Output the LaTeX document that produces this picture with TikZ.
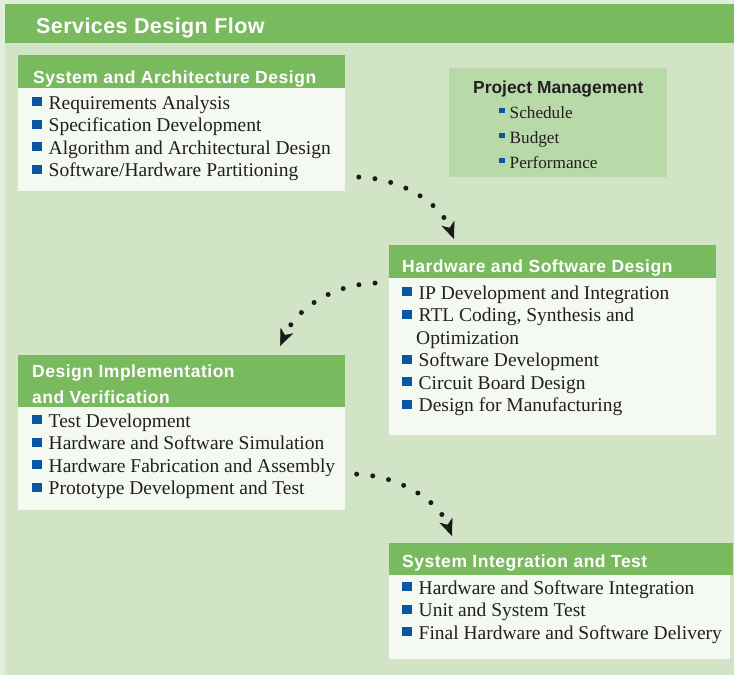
\documentclass[tikz,border=0pt]{standalone}
\usepackage{fontspec}
\setmainfont{Liberation Serif}
\newfontfamily\hsans{Liberation Sans}[LetterSpace=3]
\newfontfamily\tsans{Liberation Sans}[LetterSpace=2]
\newfontfamily\psans{Liberation Sans}
\usetikzlibrary{arrows.meta}
\definecolor{outerc}{HTML}{E2EEDC}
\definecolor{bgc}{HTML}{D1E5C6}
\definecolor{hgreen}{HTML}{7ABA5F}
\definecolor{bodyc}{HTML}{F4F9F1}
\definecolor{pmc}{HTML}{B8D9A8}
\definecolor{bulblue}{HTML}{0B56A4}
\definecolor{txtc}{HTML}{231F20}
\definecolor{arrowc}{HTML}{1A1A1A}
\newcommand{\bul}{{\color{bulblue}\rule[3pt]{9.5pt}{9pt}}\hspace{7pt}}
\newcommand{\pbul}{{\color{bulblue}\rule[5pt]{5.5pt}{5.5pt}}\hspace{5pt}}
\tikzset{
  hdr/.style={fill=hgreen, draw=none, inner sep=0pt, anchor=north west},
  bodybox/.style={fill=bodyc, draw=none, inner sep=0pt, anchor=north west},
  pmbox/.style={fill=pmc, draw=none, inner sep=0pt, anchor=north west},
  htxt/.style={font=\hsans\bfseries\fontsize{17.5}{20}\selectfont, text=white, anchor=base west, inner sep=0pt},
  item/.style={font=\fontsize{19.5}{22}\selectfont, text=txtc, anchor=base west, inner sep=0pt},
  pitem/.style={font=\fontsize{17.2}{20}\selectfont, text=txtc, anchor=base west, inner sep=0pt},
  flow/.style={draw=arrowc, line width=5pt, line cap=round, dash pattern=on 0pt off 16.2pt, dash phase=4.2pt,
    {Stealth[length=17pt,width=14pt,inset=5pt,line width=0.4pt]}-},
}
\begin{document}
\begin{tikzpicture}[x=1pt,y=-1pt]
\useasboundingbox (0,0) rectangle (734,675);
\fill[outerc] (0,0) rectangle (734,675);
\fill[bgc] (5,4) rectangle (734,675);
% title bar
\node[hdr, minimum width=729pt, minimum height=39pt] (tbar) at (5,4) {};
\node[anchor=base west, inner sep=0pt, font=\tsans\bfseries\fontsize{21.5}{24}\selectfont, text=white] (title) at (36,33) {Services Design Flow};

% Box 1
\node[bodybox, minimum width=327pt, minimum height=136pt] (b1) at (18,55) {};
\node[hdr, minimum width=327pt, minimum height=33pt] (h1) at (18,55) {};
\node[htxt] (h1t) at (33,83) {System and Architecture Design};
\foreach \t [count=\i] in {Requirements Analysis, Specification Development, Algorithm and Architectural Design, Software/Hardware Partitioning}
  \node[item] (a\i) at (32,{109+(\i-1)*22.5}) {\bul\t};

% Project management
\node[pmbox, minimum width=218pt, minimum height=109pt] (pm) at (449,68) {};
\node[anchor=base west, inner sep=0pt, font=\psans\bfseries\fontsize{17.4}{20}\selectfont, text=txtc] (pmt) at (473,93) {Project Management};
\foreach \t [count=\i] in {Schedule, Budget, Performance}
  \node[pitem] (p\i) at (499,{118+(\i-1)*25}) {\pbul\t};

% Box 3
\node[bodybox, minimum width=327pt, minimum height=190pt] (b3) at (389,245) {};
\node[hdr, minimum width=327pt, minimum height=33pt] (h3) at (389,245) {};
\node[htxt] (h3t) at (402,272) {Hardware and Software Design};
\node[item] (c1) at (402,299) {\bul IP Development and Integration};
\node[item] (c2) at (402,321.5) {\bul RTL Coding, Synthesis and};
\node[item] (c3) at (416,344) {Optimization};
\node[item] (c4) at (402,366.5) {\bul Software Development};
\node[item] (c5) at (402,389) {\bul Circuit Board Design};
\node[item] (c6) at (402,411.5) {\bul Design for Manufacturing};

% Box 4
\node[bodybox, minimum width=327pt, minimum height=155pt] (b4) at (18,355) {};
\node[hdr, minimum width=327pt, minimum height=52pt] (h4) at (18,355) {};
\node[htxt] (h4t1) at (32,377) {Design Implementation};
\node[htxt] (h4t2) at (32,403) {and Verification};
\foreach \t [count=\i] in {Test Development, Hardware and Software Simulation, Hardware Fabrication and Assembly, Prototype Development and Test}
  \node[item] (d\i) at (32,{427+(\i-1)*22.6}) {\bul\t};

% Box 5
\node[bodybox, minimum width=341pt, minimum height=116pt] (b5) at (389,543) {};
\node[hdr, minimum width=344pt, minimum height=32pt] (h5) at (389,543) {};
\node[htxt] (h5t) at (402,567) {System Integration and Test};
\foreach \t [count=\i] in {Hardware and Software Integration, Unit and System Test, Final Hardware and Software Delivery}
  \node[item] (e\i) at (402,{594+(\i-1)*22.5}) {\bul\t};

% connectors (drawn from the arrow tip back to the start so the dots end neatly before the head)
\coordinate (s1) at (355,177);
\coordinate (t1) at (454,239);
\draw[flow] (t1) .. controls (440,203) and (400,177) .. (s1);
\coordinate (s2) at (379,283);
\coordinate (t2) at (280,346);
\draw[flow] (t2) .. controls (298,306) and (337,283) .. (s2);
\coordinate (s3) at (352,474);
\coordinate (t3) at (452,536);
\draw[flow] (t3) .. controls (438,500) and (397,474) .. (s3);
\end{tikzpicture}
\end{document}
